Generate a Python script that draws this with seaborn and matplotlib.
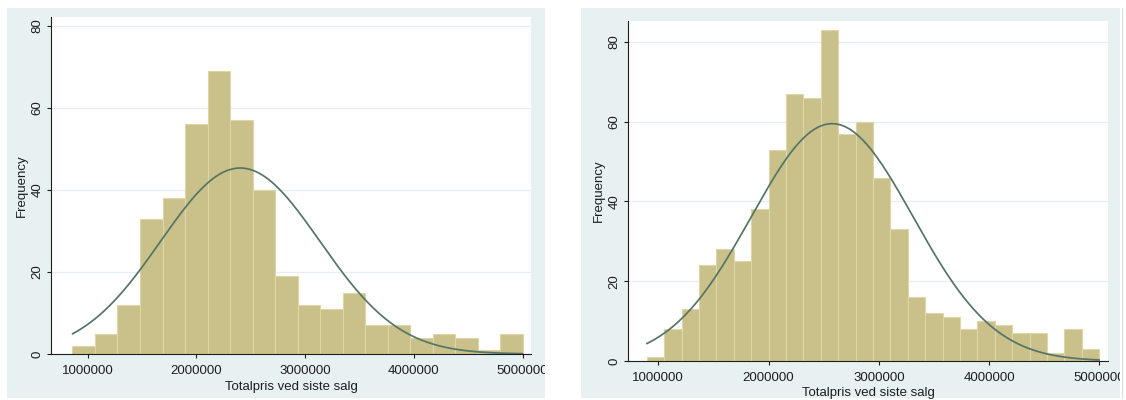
import numpy as np
import pandas as pd
import matplotlib
matplotlib.use("Agg")
import matplotlib.pyplot as plt
from matplotlib.patches import Rectangle
from matplotlib.lines import Line2D
from matplotlib.transforms import Bbox, TransformedBbox
import seaborn as sns

# Binned frequencies of total price at last sale (two samples)
left_counts = [2, 5, 12, 33, 38, 56, 69, 57, 40, 19, 12, 11, 15, 7, 7, 4, 5, 4, 1, 5]
left_range = (860000, 5000000)

right_counts = [1, 8, 13, 24, 28, 25, 38, 53, 67, 66, 83, 57, 60, 46, 33, 16,
                12, 11, 8, 10, 9, 7, 7, 2, 8, 3]
right_range = (895000, 5000000)

x_ticks = [1000000, 2000000, 3000000, 4000000, 5000000]
x_tick_labels = ["1000000", "2000000", "3000000", "4000000", "5000000"]
y_ticks = [0, 20, 40, 60, 80]
y_tick_labels = ["0", "20", "40", "60", "80"]
x_title = "Totalpris ved siste salg"
y_title = "Frequency"

# Style
BG = "#E8F1F2"
BAR = "#C9C08A"
BAR_EDGE = "#DDD6A8"
CURVE = "#557566"
GRID = "#E6EFF0"
INK = "#1E1E1E"

sns.set_style("white")
plt.rcParams["font.family"] = ["Liberation Sans", "DejaVu Sans"]
plt.rcParams["font.size"] = 9.3

W, H = 1126, 400
fig = plt.figure(figsize=(W / 100, H / 100), dpi=100)
fig.patch.set_facecolor("white")


def px_box(x0, x1, y0, y1):
    """Figure-fraction rectangle from pixel edges (y measured from top)."""
    return [x0 / W, 1 - y1 / H, (x1 - x0) / W, (y1 - y0) / H]


# Graph-region backgrounds
regions = [(7, 545), (581, 1120)]
for x0, x1 in regions:
    fig.patches.append(Rectangle((x0 / W, 2 / H), (x1 - x0) / W, (H - 10) / H,
                                 transform=fig.transFigure, facecolor=BG,
                                 edgecolor="none", zorder=-5))
fig.lines.append(Line2D([1121.5 / W, 1121.5 / W], [2 / H, 392 / H],
                        transform=fig.transFigure, color="#D5DDDF", lw=0.8,
                        zorder=-5))


def panel(region, bg_span, counts, rng, xlim, ylim, ylab_px, xlab_px):
    x0, x1, y0, y1 = region
    ax = fig.add_axes(px_box(x0, x1, y0, y1))
    ax.set_facecolor("white")
    lo, hi = rng
    n_bins = len(counts)
    edges = np.linspace(lo, hi, n_bins + 1)
    mids = (edges[:-1] + edges[1:]) / 2
    df = pd.DataFrame({"pris": mids, "n": counts})

    sns.histplot(data=df, x="pris", weights="n", bins=n_bins, binrange=(lo, hi),
                 stat="count", color=BAR, edgecolor=BAR_EDGE, linewidth=0.8,
                 alpha=1, ax=ax)

    # Normal density scaled to frequencies, from the binned mean and sd
    counts_arr = np.asarray(counts, dtype=float)
    total = counts_arr.sum()
    width = edges[1] - edges[0]
    mean = np.sum(mids * counts_arr) / total
    sd = np.sqrt(np.sum(counts_arr * (mids - mean) ** 2) / (total - 1))
    xs = np.linspace(lo, hi, 400)
    ys = total * width * np.exp(-0.5 * ((xs - mean) / sd) ** 2) / (sd * np.sqrt(2 * np.pi))
    sns.lineplot(x=xs, y=ys, ax=ax, color=CURVE, lw=1.25)

    ax.set_xlim(*xlim)
    ax.set_ylim(*ylim)
    ax.set_xticks(x_ticks, x_tick_labels)
    ax.set_yticks(y_ticks, y_tick_labels)
    ax.yaxis.grid(True, color=GRID, lw=0.9)
    ax.xaxis.grid(False)
    ax.set_axisbelow(True)

    for s in ["top", "right"]:
        ax.spines[s].set_visible(False)
    for s in ["left", "bottom"]:
        ax.spines[s].set_color(INK)
        ax.spines[s].set_linewidth(0.8)

    ax.tick_params(axis="x", direction="out", length=3, width=0.8, color=INK,
                   pad=5.2, labelsize=9.5, labelcolor=INK, bottom=True)
    ax.tick_params(axis="y", direction="out", length=3, width=0.8, color=INK,
                   pad=2.6, labelsize=9.5, labelcolor=INK, left=True)
    for lab in ax.get_yticklabels():
        lab.set_rotation(90)
        lab.set_va("center")

    # tick labels are cut off at the edge of the graph region
    clip = TransformedBbox(Bbox.from_extents(bg_span[0] / W, 0, bg_span[1] / W, 1),
                           fig.transFigure)
    for lab in ax.get_xticklabels():
        lab.set_clip_on(True)
        lab.set_clip_box(clip)

    ax.set_xlabel(x_title, fontsize=9.5, color=INK)
    ax.set_ylabel(y_title, fontsize=9.5, color=INK)
    ax.xaxis.label.set_va("center")
    ax.yaxis.label.set_va("center")
    # label centres given in pixels, converted to axes fractions
    ax.xaxis.set_label_coords(0.5, -(xlab_px - y1) / (y1 - y0))
    ax.yaxis.set_label_coords(-(x0 - ylab_px) / (x1 - x0), 0.5)
    return ax


# Left panel: plot region 51..531 px wide, 16.7..354 px tall
lb = (51, 531, 16.7, 354)
left_xlim = (1000000 - (87.7 - 51) / 108.75 * 1e6, 5000000 + (531 - 522.7) / 108.75 * 1e6)
left_ylim = (0, 80 * (354 - 16.7) / (354 - 26))
ax1 = panel(lb, regions[0], left_counts, left_range, left_xlim, left_ylim, 21.7, 386.7)

# Right panel: plot region 628.5..1108 px wide, 20.7..361 px tall
rb = (628.5, 1108, 20.7, 361)
right_xlim = (1000000 - (658.3 - 628.5) / 110.25 * 1e6, 5000000 + (1108 - 1099.3) / 110.25 * 1e6)
right_ylim = (0, 80 * (361 - 20.7) / (361 - 42))
ax2 = panel(rb, regions[1], right_counts, right_range, right_xlim, right_ylim, 598.5, 393)

fig.savefig("out.png", dpi=100, facecolor="white")
